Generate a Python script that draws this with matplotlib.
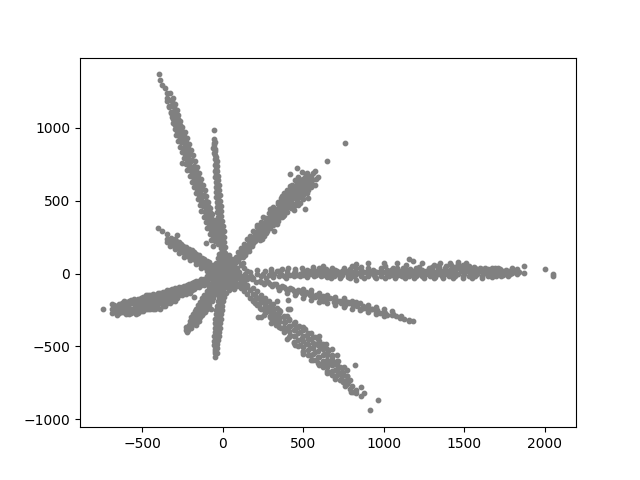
import numpy as np
import matplotlib
matplotlib.use("Agg")
import matplotlib.pyplot as plt

arm_upper_left = [
(-399,1365),(-388,1325),(-378,1290),(-362,1275),(-350,1235),(-330,1240),(-345,1200),(-325,1190),(-312,1205),
(-335,1150),(-315,1155),(-298,1160),(-325,1110),(-305,1115),(-288,1122),(-318,1070),(-298,1078),(-278,1085),
(-310,1030),(-288,1038),(-266,1044),(-300,990),(-276,998),(-252,1006),(-291,950),(-263,960),(-238,968),
(-279,910),(-251,922),(-225,930),(-266,870),(-238,882),(-212,890),(-254,830),(-226,842),(-200,850),
(-243,790),(-214,802),(-188,810),(-230,750),(-202,762),(-175,770),(-220,710),(-190,722),(-162,730),
(-206,670),(-177,682),(-150,690),(-255,760),(-194,630),(-165,642),(-138,650),(-182,590),(-153,602),(-126,610),
(-170,550),(-141,562),(-114,570),(-157,510),(-129,522),(-102,530),(-145,470),(-116,482),(-90,490),
(-133,430),(-104,442),(-78,450),(-120,390),(-92,402),(-66,410),(-108,350),(-80,362),(-54,370),
(-96,310),(-68,322),(-44,330),(-82,270),(-55,282),(-34,290),(-72,230),(-43,242),(-24,250),(-60,190),(-31,202),(-14,210),
(-345,1180),(-315,1180),(-333,1140),(-303,1140),(-320,1100),(-290,1100),(-308,1060),(-278,1060),(-296,1020),(-266,1020),
(-284,980),(-254,980),(-272,940),(-242,940),(-259,900),(-229,900),(-247,860),(-217,860),(-235,820),(-205,820),
(-223,780),(-193,780),(-211,740),(-181,740),(-199,700),(-169,700),(-186,660),(-156,660),(-174,620),(-144,620),
(-162,580),(-132,580),(-150,540),(-120,540),(-137,500),(-107,500),(-125,460),(-95,460),(-113,420),(-83,420),
(-101,380),(-71,380),(-89,340),(-59,340),(-76,300),(-46,300),(-64,260),(-34,260),(-52,220),(-22,220),
]
arm_upper_narrow = [
(-55,985),(-54,925),(-56,895),(-60,860),(-48,855),(-54,825),(-44,800),(-50,785),(-38,770),(-50,745),(-38,735),
(-48,700),(-34,705),(-46,665),(-32,672),(-45,630),(-30,640),(-44,595),(-26,605),(-42,560),(-24,570),(-40,525),
(-20,535),(-38,490),(-18,500),(-36,455),(-14,465),(-34,420),(-14,430),(-32,385),(-10,395),(-28,350),(-6,360),
(-26,315),(2,325),(-24,280),(6,290),(-20,245),(6,250),(-18,210),(8,215),(-14,175),(12,180),(-10,140),(14,140),(-5,105),
(-52,905),(-58,880),(-52,840),(-46,812),(-44,760),(-42,720),(-40,685),(-38,650),(-38,615),(-34,580),(-32,545),(-30,510),
(-28,475),(-24,440),(-22,405),(-20,370),(-16,335),(-12,300),(-8,265),(-6,230),(-4,195),(-2,160),(0,125),
]
arm_upper_right = [
(760,895),(645,772),(460,726),(420,680),(490,695),(525,690),(510,665),(560,690),(575,700),(545,670),(590,665),
(475,650),(450,640),(500,630),(530,640),(555,640),(570,610),(430,610),(460,610),(490,605),(520,600),(545,590),
(400,570),(425,580),(455,575),(485,565),(510,560),(530,520),(370,530),(395,540),(420,540),(450,530),(478,525),
(500,510),(345,490),(375,500),(400,505),(425,495),(450,480),(470,470),(380,465),(400,465),(425,450),(510,440),
(310,455),(335,445),(355,455),(285,415),(310,420),(335,415),(360,410),(385,425),(265,380),(290,385),(315,385),
(345,375),(365,385),(235,355),(260,350),(285,345),(310,350),(335,340),(215,320),(240,320),(265,315),(290,310),
(315,295),(190,290),(215,285),(240,285),(265,275),(170,260),(195,255),(220,250),(245,240),(150,235),(175,225),
(200,220),(130,205),(155,195),(180,190),(110,175),(135,165),(160,155),(95,145),(115,135),(140,125),(80,115),(100,105),
(540,660),(520,620),(500,650),(480,620),(460,630),(445,600),(475,590),(505,585),(530,570),(415,555),(440,560),(470,550),
(500,540),(385,520),(410,520),(435,515),(462,505),(360,480),(390,485),(415,480),(440,465),(320,435),(345,430),(370,440),
(395,445),(300,400),(325,400),(350,395),(375,395),(275,365),(300,365),(325,365),(250,335),(275,330),(300,330),(225,305),
(250,300),(275,295),(205,270),(230,268),(255,258),(180,242),(205,238),(230,232),(160,212),(185,208),(140,182),(165,175),
(120,150),(145,145),(100,125),(125,115),(75,95),(95,85),
(300,445),(340,480),(380,550),(420,600),(470,665),(515,685),(340,360),(400,425),(440,435),(480,485),(520,555),(550,620),(580,650),
(250,390),(210,335),(290,440),(360,515),(310,330),(380,400),
]
arm_right_top = [
(130,35),(170,10),(210,25),(260,15),(300,30),(335,15),(370,30),(405,35),(450,30),(490,35),(520,25),(560,45),(600,35),
(640,30),(680,35),(710,20),(750,40),(790,30),(825,35),(860,45),(905,35),(935,25),(980,40),(1010,55),(1045,25),
(1085,35),(1130,40),(1160,103),(1180,85),(1165,30),(1200,35),(1240,25),(1280,40),(1310,60),(1345,45),(1380,40),
(1420,60),(1460,65),(1495,60),(1530,50),(1570,35),(1610,30),(1650,30),(1690,35),(1725,30),(1760,25),(1800,40),(1830,30),(1870,50),
(1000,75),(1085,70),(1140,60),(1240,75),(1350,75),(1410,75),(1460,80),(1510,75),(900,75),(830,65),(800,55),(620,50),(1600,40),
(300,15),(350,20),(400,15),(450,15),(500,20),(540,15),(580,20),(620,25),(660,15),(700,25),(740,20),(780,15),(820,20),(860,25),
(900,20),(940,15),(980,20),(1020,25),(1060,15),(1100,20),(1140,20),(1180,15),(1220,25),(1260,20),(1300,25),(1340,30),(1380,25),
(1420,30),(1460,35),(1500,30),(1540,30),(1580,25),(1620,20),(1660,20),(1700,20),(1740,15),(1780,20),(1820,20),
(1220,42),(1300,42),(1330,50),(1390,55),(1440,48),(1480,45),(1520,40),(1560,45),(1630,38),(1670,38),(1710,35),(1120,35),(1060,38),
]
arm_right_mid = [
(140,-5),(175,-15),(215,-5),(250,0),(285,-10),(320,0),(360,-5),(400,-5),(440,5),(480,0),(520,5),(560,10),(600,5),(640,0),
(680,5),(720,0),(760,10),(800,5),(840,5),(880,10),(920,5),(960,10),(1000,10),(1040,5),(1080,10),(1120,5),(1160,10),(1200,5),
(1240,5),(1280,15),(1320,10),(1360,15),(1400,15),(1440,20),(1480,15),(1520,15),(1560,10),(1600,15),(1640,10),(1680,5),(1720,10),(1760,5),(1800,5),(1840,10),
(380,-15),(420,-10),(460,-10),(500,-8),(540,-5),(580,-8),(620,-10),(660,-8),(700,-10),(740,-8),(780,-10),(820,-8),(860,-5),(900,-8),
(940,-8),(980,-5),(1020,-5),(1060,-8),(1100,-8),(1140,-5),(1180,-8),(1220,-5),(1260,-5),(1300,-5),(1340,0),(1380,0),(1420,0),(1460,0),
(1500,0),(1540,0),(1580,-2),(1620,0),(1660,-2),(1700,-2),(1740,-2),(1780,0),
]
arm_right_low = [
(150,-25),(190,-30),(235,-20),(270,-30),(310,-25),(350,-20),(395,-30),(440,-15),(480,-20),(525,-25),(565,-15),(610,-20),(650,-25),(690,-15),
(735,-20),(775,-25),(815,-15),(860,-20),(900,-15),(945,-25),(985,-20),(1030,-15),(1075,-20),(1115,-15),(1155,-15),(1200,-20),(1240,-15),(1285,-15),
(1320,-25),(1365,-15),(1405,-20),(1445,-15),(1490,-20),(1530,-15),(1570,-15),(1610,-20),(1650,-15),(1700,-15),(1740,-10),(1785,-5),(1830,0),(1870,5),
(2000,30),(2055,0),(2055,-15),
(670,-30),(730,-28),(790,-30),(830,-45),(880,-28),(950,-30),(1010,-28),(1070,-30),(1130,-28),(1190,-32),(1250,-28),(1310,-30),(1370,-32),
(1430,-28),(1490,-30),(1550,-28),(1610,-28),(1670,-25),(1730,-20),(1770,-18),
]
arm_lower_mid = [
(1184,-322),(1160,-328),(1155,-315),(1125,-310),(1100,-305),(1075,-290),(1050,-285),(1020,-285),(1000,-265),(975,-270),(950,-265),(930,-245),
(900,-250),(880,-235),(860,-240),(835,-220),(810,-225),(785,-205),(760,-215),(735,-205),(715,-190),(690,-195),(665,-170),(640,-185),(620,-155),
(605,-175),(580,-145),(555,-160),(530,-130),(505,-145),(480,-120),(455,-130),(430,-105),(405,-115),(380,-90),(355,-100),(330,-75),(305,-85),
(280,-60),(255,-70),(230,-50),(205,-55),(180,-40),(150,-40),(125,-35),(830,-195),(760,-190),(690,-170),(620,-190),(550,-130),
(1110,-292),(1060,-275),(1010,-268),(960,-250),(920,-240),(870,-225),(820,-210),(775,-195),(725,-185),(700,-175),(650,-165),(600,-150),
(570,-160),(540,-145),(515,-125),(490,-130),(465,-115),(440,-120),(415,-100),(390,-105),(365,-85),(340,-90),(315,-70),(290,-72),(265,-60),(240,-60),
(650,-145),(700,-160),(750,-170),(800,-185),(850,-200),(900,-215),(950,-230),(1000,-245),(1050,-260),(600,-130),(550,-115),(500,-105),
(600,-195),(650,-205),(700,-215),(750,-230),(800,-240),(850,-250),(900,-265),(950,-280),(1000,-290),(550,-180),(500,-165),(450,-150),(400,-130),(350,-115),
]
arm_lower_right = [
(916,-938),(966,-870),(880,-820),(860,-780),(810,-815),(830,-820),(822,-630),(860,-840),(780,-740),(800,-770),(770,-700),(745,-740),
(790,-730),(720,-690),(745,-680),(770,-660),(725,-640),(750,-640),(695,-720),(670,-680),(700,-660),(690,-620),(715,-600),(650,-640),
(640,-600),(665,-610),(680,-570),(710,-560),(620,-620),(600,-570),(630,-550),(655,-530),(580,-590),(570,-540),(605,-510),(630,-490),
(550,-560),(540,-510),(570,-480),(595,-460),(500,-530),(515,-480),(545,-450),(570,-435),(480,-490),(490,-440),(520,-420),(440,-475),
(450,-430),(480,-400),(510,-380),(420,-420),(450,-380),(475,-360),(390,-390),(415,-360),(440,-340),(360,-370),(385,-335),(410,-310),
(330,-350),(350,-310),(380,-290),(315,-320),(330,-280),(355,-260),(290,-290),(310,-260),(335,-235),(265,-265),(285,-235),(310,-210),
(240,-240),(260,-210),(285,-190),(215,-215),(240,-190),(260,-165),(190,-190),(215,-165),(235,-145),(170,-165),(190,-140),(210,-120),
(150,-140),(170,-115),(190,-100),(130,-120),(150,-95),(110,-100),(130,-80),(90,-85),
(218,-295),(295,-220),(336,-185),(405,-180),(417,-240),(405,-245),(220,-170),(255,-285),(300,-305),(240,-295),
(200,-145),(200,-175),(200,-205),(230,-170),(230,-203),(230,-235),(260,-195),(260,-231),(260,-265),(290,-220),(290,-260),(290,-295),
(320,-245),(320,-275),(320,-305),(320,-335),(350,-270),(350,-300),(350,-335),(350,-365),(380,-295),(380,-330),(380,-365),(380,-400),
(410,-320),(410,-360),(410,-395),(410,-435),(440,-345),(440,-385),(440,-425),(440,-470),(470,-365),(470,-410),(470,-455),(470,-500),
(500,-385),(500,-425),(500,-465),(500,-505),(500,-535),(530,-410),(530,-450),(530,-485),(530,-525),(530,-560),
(560,-435),(560,-475),(560,-510),(560,-550),(560,-590),(590,-450),(590,-490),(590,-530),(590,-570),(590,-610),
(620,-480),(620,-520),(620,-560),(620,-600),(620,-640),(650,-520),(650,-555),(650,-595),(650,-635),(650,-665),
(680,-555),(680,-590),(680,-625),(680,-665),(680,-695),(710,-600),(710,-630),(710,-660),(710,-695),
(740,-650),(740,-675),(740,-700),(740,-730),(770,-700),(770,-730),(770,-755),
(350,-250),(400,-290),(450,-330),(500,-365),(550,-405),(600,-430),(640,-480),(680,-520),(300,-340),(400,-450),(450,-490),(500,-550),
(550,-590),(600,-625),(650,-680),(700,-710),(725,-730),(760,-770),(790,-790),(795,-810),(830,-800),
]
arm_lower_narrow = [
(-50,-575),(-46,-545),(-36,-545),(-52,-520),(-38,-510),(-55,-490),(-34,-480),(-56,-460),(-40,-450),(-30,-455),(-54,-430),(-36,-420),(-26,-430),
(-52,-400),(-32,-390),(-22,-400),(-50,-370),(-30,-360),(-20,-370),(-48,-340),(-28,-330),(-16,-340),(-46,-310),(-26,-300),(-12,-310),(-42,-280),
(-22,-270),(-10,-280),(-40,-250),(-18,-240),(-8,-250),(-36,-220),(-14,-210),(-4,-220),(-30,-190),(-10,-180),(0,-190),(-24,-160),(-4,-155),(4,-160),(-18,-130),(0,-125),
(-75,-240),
(-46,-530),(-44,-500),(-46,-475),(-44,-445),(-44,-415),(-42,-385),(-40,-355),(-38,-325),(-36,-295),(-32,-265),(-28,-235),(-24,-205),(-20,-175),(-14,-145),(-8,-115),
]
arm_lower_left = [
(-225,-404),(-232,-385),(-215,-385),(-228,-365),(-200,-375),(-212,-350),(-190,-355),(-205,-325),(-180,-335),(-165,-350),(-198,-300),(-170,-310),
(-150,-325),(-185,-280),(-160,-285),(-140,-295),(-175,-260),(-150,-265),(-125,-270),(-165,-240),(-140,-245),(-115,-250),(-155,-215),(-130,-220),
(-105,-225),(-145,-195),(-115,-195),(-90,-200),(-130,-170),(-100,-170),(-80,-175),(-115,-145),(-90,-145),(-65,-150),(-100,-120),(-75,-120),(-50,-125),
(-85,-95),(-60,-95),(-40,-95),(-70,-70),(-45,-70),
(-180,-160),(-205,-135),(-230,-140),
(-222,-375),(-205,-365),(-195,-345),(-182,-320),(-160,-335),(-192,-312),(-175,-295),(-150,-305),(-172,-270),(-150,-275),(-130,-285),(-160,-250),
(-135,-255),(-112,-262),(-150,-228),(-122,-235),(-100,-240),(-138,-205),(-105,-210),(-85,-215),(-122,-182),(-92,-185),(-70,-190),(-108,-158),
(-78,-160),(-60,-165),(-92,-132),(-65,-135),(-45,-140),(-78,-108),(-50,-110),(-30,-110),
]
arm_left = [
(-748,-240),(-690,-270),(-690,-240),(-690,-210),(-660,-285),(-660,-255),(-660,-225),(-630,-265),(-630,-235),(-630,-205),(-600,-280),(-600,-250),
(-600,-220),(-600,-195),(-570,-270),(-570,-240),(-570,-205),(-570,-180),(-540,-280),(-540,-250),(-540,-220),(-540,-190),(-510,-260),(-510,-225),
(-510,-190),(-510,-165),(-480,-240),(-480,-210),(-480,-180),(-480,-150),(-450,-245),(-450,-215),(-450,-185),(-450,-150),(-420,-245),(-420,-210),
(-420,-175),(-420,-145),(-390,-240),(-390,-205),(-390,-170),(-390,-135),(-360,-225),(-360,-190),(-360,-155),(-360,-125),(-330,-205),(-330,-175),
(-330,-140),(-330,-110),(-300,-190),(-300,-155),(-300,-125),(-300,-100),(-270,-150),(-270,-120),(-270,-95),(-240,-135),(-240,-105),(-240,-85),
(-210,-120),(-210,-95),(-210,-75),(-180,-105),(-180,-80),(-180,-60),(-150,-90),(-150,-65),(-150,-50),(-120,-80),(-120,-55),(-120,-35),(-90,-65),(-90,-40),(-90,-20),
(-675,-265),(-675,-235),(-675,-215),(-645,-270),(-645,-240),(-645,-210),(-615,-265),(-615,-235),(-615,-210),(-615,-190),(-585,-275),(-585,-240),
(-585,-210),(-585,-185),(-555,-265),(-555,-235),(-555,-205),(-555,-175),(-525,-270),(-525,-240),(-525,-210),(-525,-175),(-495,-255),(-495,-225),
(-495,-195),(-495,-160),(-465,-240),(-465,-210),(-465,-175),(-465,-145),(-435,-245),(-435,-210),(-435,-175),(-435,-140),(-405,-235),(-405,-200),
(-405,-165),(-405,-130),(-375,-225),(-375,-195),(-375,-160),(-375,-125),(-345,-205),(-345,-175),(-345,-145),(-345,-115),(-315,-190),(-315,-160),
(-315,-130),(-315,-105),(-285,-165),(-285,-135),(-285,-110),(-255,-145),(-255,-115),(-255,-90),(-225,-125),(-225,-100),(-225,-80),(-195,-110),
(-195,-85),(-195,-65),(-165,-95),(-165,-70),(-165,-50),(-135,-80),(-135,-55),(-135,-35),
]
arm_upper_left_short = [
(-405,315),(-380,295),(-350,270),(-287,267),(-350,240),(-325,245),(-300,240),(-350,215),(-330,215),(-300,215),(-270,215),(-330,190),(-305,190),
(-275,195),(-245,190),(-300,165),(-270,165),(-240,170),(-210,170),(-270,140),(-240,140),(-210,145),(-180,150),(-240,115),(-210,115),(-180,120),
(-150,125),(-205,90),(-175,90),(-145,95),(-120,100),(-170,65),(-140,65),(-110,70),(-85,80),(-135,40),(-105,40),(-75,45),(-100,15),(-70,20),(-45,30),(-105,212),
(-340,230),(-315,230),(-290,225),(-315,205),(-290,205),(-260,205),(-285,180),(-260,180),(-230,180),(-255,155),(-225,155),(-195,160),(-225,130),
(-195,130),(-165,135),(-190,105),(-160,105),(-130,110),(-155,80),(-125,80),(-100,85),(-120,55),(-90,55),(-60,60),(-85,30),(-60,35),
]
center_blob = [
(-100,-50),(-70,-40),(-40,-30),(-10,-30),(20,-40),(50,-40),(80,-40),(110,-50),(-100,-20),(-70,-10),(-40,-5),(-10,-5),(20,-10),(50,-10),(80,-15),(110,-20),
(-80,15),(-50,20),(-20,25),(10,20),(40,15),(70,10),(100,10),(-60,45),(-30,50),(0,50),(30,45),(60,40),(90,40),(-45,75),(-15,80),(15,80),(45,75),(75,70),(110,60),
(-30,105),(0,110),(25,110),(55,100),(-70,-70),(-40,-65),(-10,-60),(20,-70),(50,-70),(80,-75),(-50,-95),(-20,-95),(10,-100),(40,-115),(70,-105),(-20,-120),(20,-130),
(-25,135),(10,145),(35,125),(150,20),(125,75),
(-85,-30),(-55,-20),(-25,-15),(5,-20),(35,-25),(65,-25),(95,-30),(-65,0),(-35,8),(-5,10),(25,5),(55,0),(85,-5),(-45,30),(-15,35),(15,35),(45,30),(75,25),
(-30,60),(0,65),(30,60),(60,55),(-15,95),(15,95),(40,90),(-55,-55),(-25,-45),(5,-50),(35,-55),(65,-55),(-35,-80),(-5,-80),(25,-85),(55,-90),
(130,-60),(150,-80),(120,-90),(100,-75),
]
all_arms = [arm_upper_left, arm_upper_narrow, arm_upper_right, arm_right_top, arm_right_mid, arm_right_low,
            arm_lower_mid, arm_lower_right, arm_lower_narrow, arm_lower_left, arm_left,
            arm_upper_left_short, center_blob]

fig, ax = plt.subplots()
for arm in all_arms:
    pts = np.array(arm)
    ax.scatter(pts[:, 0], pts[:, 1], s=10, c="gray")
fig.savefig("out.png", dpi=100)
